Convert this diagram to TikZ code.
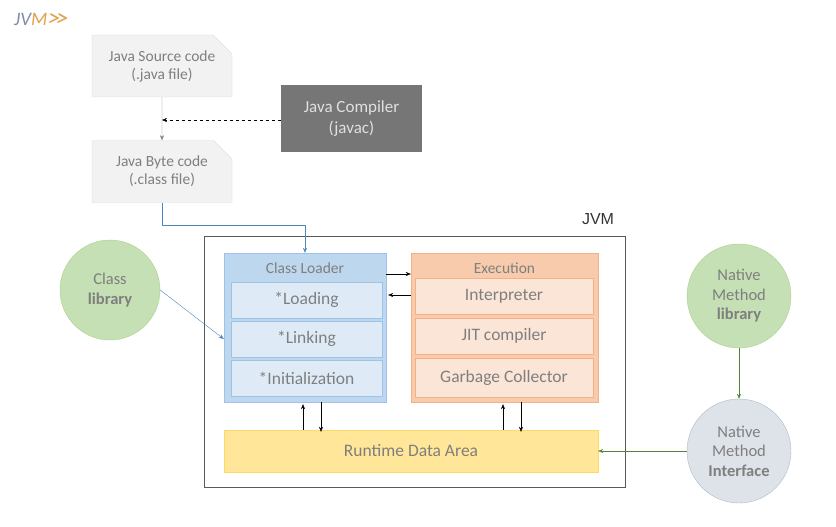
\documentclass[tikz,border=0pt]{standalone}
\usepackage{fontspec}
\setmainfont{Carlito}
\newfontfamily\arialfont{Liberation Sans}
\usetikzlibrary{arrows.meta,shapes.misc,shapes.geometric}
\definecolor{txtgray}{HTML}{7F7F7F}
\definecolor{docfill}{HTML}{F2F2F2}
\definecolor{docline}{HTML}{D9D9D9}
\definecolor{cmpfill}{HTML}{767676}
\definecolor{clfill}{HTML}{BDD7EE}
\definecolor{clsub}{HTML}{DEEBF7}
\definecolor{clline}{HTML}{9DC3E6}
\definecolor{exfill}{HTML}{F8CBAD}
\definecolor{exsub}{HTML}{FBE5D6}
\definecolor{exline}{HTML}{F4B183}
\definecolor{rtfill}{HTML}{FFE699}
\definecolor{rtline}{HTML}{FFD966}
\definecolor{grfill}{HTML}{C5E0B4}
\definecolor{grline}{HTML}{A9D18E}
\definecolor{nifill}{HTML}{DEE3EA}
\definecolor{niline}{HTML}{ADB9CA}
\definecolor{bluearr}{HTML}{4A86BF}
\definecolor{greenarr}{HTML}{548235}
\definecolor{jvmorange}{HTML}{E3A04A}
\definecolor{jvmblue}{HTML}{7F8CA8}
\tikzset{
	doc/.style={chamfered rectangle, chamfered rectangle corners=north east, chamfered rectangle xsep=19pt,
		fill=docfill, draw=docline, minimum width=140pt, minimum height=62pt, inner sep=0pt,
		text=txtgray, font=\fontsize{15.5}{18}\selectfont, align=center},
	sub/.style={rectangle, minimum height=36pt, inner sep=0pt, text=txtgray, font=\fontsize{17.5}{20}\selectfont},
	ball/.style={circle, inner sep=0pt, text=txtgray, align=center, font=\fontsize{16.5}{19.5}\selectfont},
	tip/.style={-{Stealth[length=5pt,width=4pt]}},
}
\begin{document}
\begin{tikzpicture}[x=1pt, y=-1pt]
		\useasboundingbox (0,0) rectangle (836,527);

		%––––– title –––––
		\node[font=\itshape\fontsize{19}{21}\selectfont, anchor=west, inner sep=0pt] (title) at (14,20) {\textcolor{jvmblue}{JV}\textcolor{jvmorange}{M\kern0.5pt{\fontsize{25}{27}\selectfont\raisebox{-1pt}{>\kern-4pt>}}}};

		%––––– compile chain –––––
		\node[doc] (src) at (162,66) {Java Source code\\(.java file)};
		\node[doc] (bc) at (162,171.5) {Java Byte code\\(.class file)};
		\node[rectangle, fill=cmpfill, minimum width=141pt, minimum height=67pt, inner sep=0pt, text=white!88!black, align=center, font=\fontsize{17}{21}\selectfont] (javac) at (351.5,118.5) {Java Compiler\\(javac)};
		\coordinate (mid) at (162,120);
		\draw[txtgray, tip] (src) -- (bc);
		\draw[black, dashed, tip] (javac.west |- mid) -- (mid);

		%––––– JVM frame –––––
		\draw[black!65, thick] (204,236) rectangle (625,487);
		\node[text=black!80, font=\arialfont\fontsize{16}{19}\selectfont, anchor=south] (jvm) at (598,228) {JVM};

		%––––– class loader –––––
		\node[rectangle, fill=clfill, draw=clline, minimum width=162pt, minimum height=149pt, inner sep=0pt] (cl) at (305,327.5) {};
		\node[text=txtgray, font=\fontsize{15.5}{18}\selectfont] (clt) at (305,268) {Class Loader};
		\node[sub, fill=clsub, draw=clline, minimum width=151pt] (load) at (306.5,300) {*Loading};
		\node[sub, fill=clsub, draw=clline, minimum width=151pt] (link) at (306.5,339) {*Linking};
		\node[sub, fill=clsub, draw=clline, minimum width=151pt] (init) at (306.5,378) {*Initialization};

		%––––– execution –––––
		\node[rectangle, fill=exfill, draw=exline, minimum width=187pt, minimum height=149pt, inner sep=0pt] (ex) at (504.5,327.5) {};
		\node[text=txtgray, font=\fontsize{15.5}{18}\selectfont] (ext) at (504.5,268) {Execution};
		\node[sub, fill=exsub, draw=exline, minimum width=178pt] (interp) at (504,296) {Interpreter};
		\node[sub, fill=exsub, draw=exline, minimum width=178pt] (jit) at (504,336) {JIT compiler};
		\node[sub, fill=exsub, draw=exline, minimum width=178pt, minimum height=39pt] (gc) at (504,377.5) {Garbage Collector};

		\coordinate (r1) at (0,274);
		\coordinate (r2) at (0,295);
		\draw[black, tip] (cl.east |- r1) -- (ex.west |- r1);
		\draw[black, tip] (ex.west |- r2) -- ([xshift=2pt]cl.east |- r2);

		%––––– runtime data area –––––
		\node[rectangle, fill=rtfill, draw=rtline, minimum width=374pt, minimum height=42pt, inner sep=0pt, text=txtgray, font=\fontsize{17.5}{20}\selectfont] (rda) at (411,451) {Runtime Data Area};

		\coordinate (u1) at (303,0);
		\coordinate (d1) at (321,0);
		\coordinate (u2) at (503,0);
		\coordinate (d2) at (521,0);
		\draw[black, tip] (rda.north -| u1) -- ([yshift=-2pt]cl.south -| u1);
		\draw[black, tip] (cl.south -| d1) -- ([yshift=-2pt]rda.north -| d1);
		\draw[black, tip] (rda.north -| u2) -- ([yshift=-2pt]ex.south -| u2);
		\draw[black, tip] (ex.south -| d2) -- ([yshift=-2pt]rda.north -| d2);

		%––––– byte code into loader –––––
		\draw[bluearr, tip] (bc.south) -- (162,225) -| (cl.north);

		%––––– libraries –––––
		\node[ball, fill=grfill, draw=grline, minimum size=100pt] (clib) at (110,290) {Class\\\textbf{library}};
		\draw[bluearr, tip] (clib.east) -- (cl.west |- link);

		\node[ball, fill=grfill, draw=grline, minimum size=104pt] (nlib) at (739,296) {Native\\Method\\\textbf{library}};
		\node[ball, fill=nifill, draw=niline, minimum size=104pt] (nif) at (739,451) {Native\\Method\\\textbf{Interface}};
		\draw[greenarr, tip] (nlib) -- (nif);
		\draw[greenarr, tip] (nif) -- (rda);
	\end{tikzpicture}
\end{document}
